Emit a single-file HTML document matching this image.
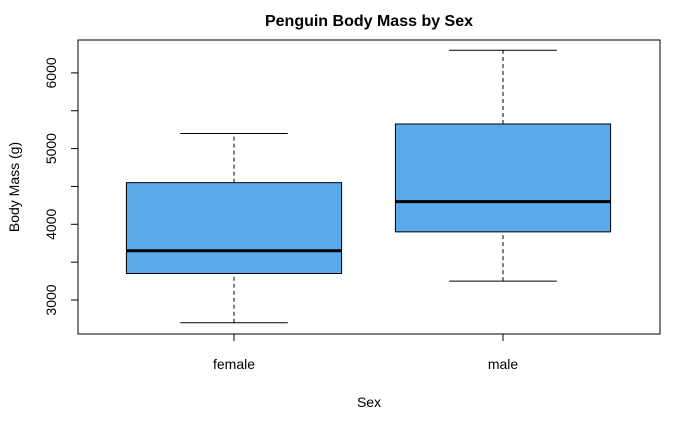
<!DOCTYPE html>
<html><head><meta charset="utf-8">
<style>
html,body{margin:0;padding:0;background:#fff;}
svg{display:block;font-family:"Liberation Sans",Arial,sans-serif;}
</style></head>
<body>
<svg id="chart" width="700" height="432" viewBox="0 0 700 432">
<rect width="700" height="432" fill="#fff"/>
<text x="369" y="26" text-anchor="middle" font-size="16" font-weight="bold">Penguin Body Mass by Sex</text>
<g id="marks"></g>
<rect x="78" y="40" width="582" height="294" fill="none" stroke="#000" stroke-width="1"/>
<g id="axes"></g>
<text x="369" y="407" text-anchor="middle" font-size="14">Sex</text>
<text transform="translate(19,187) rotate(-90)" text-anchor="middle" font-size="14">Body Mass (g)</text>
</svg>
<script>
const categories = ["female", "male"];
const whiskerLow = [2700, 3250];
const q1 = [3350, 3900];
const median = [3650, 4300];
const q3 = [4550, 5325];
const whiskerHigh = [5200, 6300];
const yTicks = [3000, 3500, 4000, 4500, 5000, 5500, 6000];
const yTickLabels = ["3000", "", "4000", "", "5000", "", "6000"];

const NS = "http://www.w3.org/2000/svg";
function xs(i){ return 234 + (i) * 269; }
function ys(v){ return 300 - (v - 3000) * 0.0757; }
function mk(tag, attrs, parent){
  const e = document.createElementNS(NS, tag);
  for (const k in attrs) e.setAttribute(k, attrs[k]);
  parent.appendChild(e);
  return e;
}
const marks = document.getElementById("marks");
const axes = document.getElementById("axes");
const halfBox = 0.4 * 269, halfCap = 0.2 * 269;

categories.forEach((c, i) => {
  const cx = xs(i);
  const g = mk("g", {}, marks);
  
  
  let e;
  e = mk("line", {x1:cx, x2:cx, y1:ys(whiskerLow[i]), y2:ys(q1[i]), stroke:"#000", "stroke-dasharray":"4,3"}, g);
  
  
  e = mk("line", {x1:cx, x2:cx, y1:ys(q3[i]), y2:ys(whiskerHigh[i]), stroke:"#000", "stroke-dasharray":"4,3"}, g);
  
  
  e = mk("line", {x1:cx-halfCap, x2:cx+halfCap, y1:ys(whiskerLow[i]), y2:ys(whiskerLow[i]), stroke:"#000"}, g);
  
  
  e = mk("line", {x1:cx-halfCap, x2:cx+halfCap, y1:ys(whiskerHigh[i]), y2:ys(whiskerHigh[i]), stroke:"#000"}, g);
  
  
  e = mk("rect", {x:cx-halfBox, y:ys(q3[i]), width:2*halfBox, height:ys(q1[i])-ys(q3[i]), fill:"#5aaaeb", stroke:"#000"}, g);
  
  
  e = mk("line", {x1:cx-halfBox, x2:cx+halfBox, y1:ys(median[i]), y2:ys(median[i]), stroke:"#000", "stroke-width":3}, g);
  
  
  e = mk("line", {x1:cx, x2:cx, y1:334, y2:341, stroke:"#000"}, axes);
  
  
  e = mk("text", {x:cx, y:369, "text-anchor":"middle", "font-size":14}, axes);
  e.textContent = c;
  
  
});

yTicks.forEach((v, i) => {
  const y = ys(v);
  let e = mk("line", {x1:71, x2:78, y1:y, y2:y, stroke:"#000"}, axes);
  
  
  if (yTickLabels[i]) {
    e = mk("text", {transform:"translate(56," + y + ") rotate(-90)", "text-anchor":"middle", "font-size":14}, axes);
    e.textContent = yTickLabels[i];
    
    
  }
});
</script>
</body></html>
